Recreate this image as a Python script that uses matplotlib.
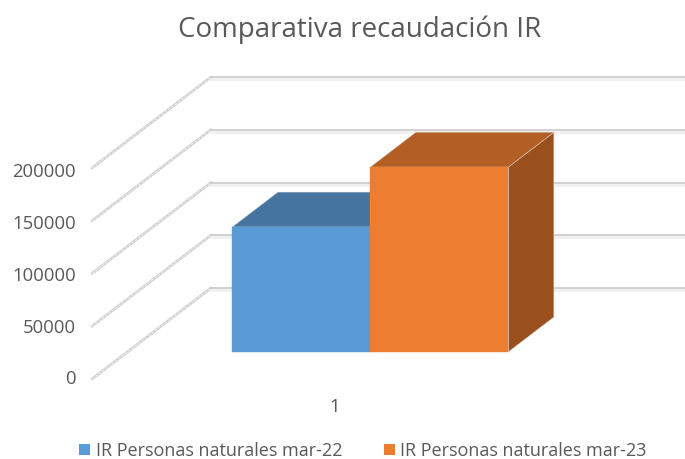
import matplotlib
matplotlib.use('Agg')
import matplotlib.pyplot as plt
from matplotlib.patches import Polygon, Patch

plt.rcParams['font.family'] = ['Open Sans', 'DejaVu Sans']

# datos
categorias = ['1']
series = ['IR Personas naturales mar-22', 'IR Personas naturales mar-23']
valores = [118500, 175300]
ticks_y = [0, 50000, 100000, 150000, 200000]

colores = ['#5B9BD5', '#ED7D31']
colores_arriba = ['#44749F', '#B25E24']
colores_lado = ['#3F6C95', '#9A501C']

# caja 3D: x en ancho de barra, y en valor, d = profundidad de 0 a 1
PX_X = 138.0
PX_Y = 211.0 / 200000
FONDO_X = 119 / PX_X
FONDO_Y = 91 / PX_Y
PARED_X = -0.761
FIN_X = 488 / PX_X
D_FRENTE = 0.297
D_ATRAS = 0.68


def proyectar(x, v, d):
    return x + d * FONDO_X, v + d * FONDO_Y


def cara(puntos, color, z, **kw):
    pts = [proyectar(*p) for p in puntos]
    return Polygon(pts, closed=True, facecolor=color, edgecolor=kw.pop('borde', color),
                   linewidth=kw.pop('grosor', 0.6), zorder=z, **kw)


fig = plt.figure(figsize=(6.85, 4.59), dpi=100)
ax = fig.add_axes([0, 0, 1, 1])
ax.set_xlim(-197 / PX_X, FIN_X)
ax.set_ylim(-80 / PX_Y, 379 / PX_Y)
ax.axis('off')

# rejilla: pared lateral y pared del fondo
for t in ticks_y:
    x0, y0 = proyectar(PARED_X, t, 0)
    x1, y1 = proyectar(PARED_X, t, 1)
    ax.plot([x0, x1], [y0, y1], color='#d2d2d2', lw=2.0, zorder=1, solid_capstyle='round')
    ax.plot([x0, x1], [y0, y1], color='#f4f4f4', lw=0.6, zorder=1.1, dashes=(3, 2))
    ax.plot([x1, FIN_X], [y1 - 2 / PX_Y, y1 - 2 / PX_Y], color='#f0f0f0', lw=2.0, zorder=1)
    ax.plot([x1, FIN_X], [y1, y1], color='#cacaca', lw=1.2, zorder=1.1)
    ax.text(x0 - 16 / PX_X, t * 0.985 - 0.5 / PX_Y, str(t), ha='right', va='center',
            fontsize=13.3, color='#595959')

# barras
for i, v in enumerate(valores):
    izq, der = i, i + 1
    ax.add_patch(cara([(der, 0, D_FRENTE), (der, 0, D_ATRAS), (der, v, D_ATRAS), (der, v, D_FRENTE)],
                      colores_lado[i], 3 + i, borde='#d4d4d4', grosor=0.5))
    ax.add_patch(cara([(izq, v, D_FRENTE), (izq, v, D_ATRAS), (der, v, D_ATRAS), (der, v, D_FRENTE)],
                      colores_arriba[i], 3 + i, borde='#d4d4d4', grosor=0.3))
    ax.add_patch(cara([(izq, 0, D_FRENTE), (der, 0, D_FRENTE), (der, v, D_FRENTE), (izq, v, D_FRENTE)],
                      colores[i], 3.1 + i, grosor=0.3))

# etiqueta de categoria
x_cat, y_cat = proyectar(1, 0, 0)
ax.text(x_cat, y_cat - 28 / PX_Y, categorias[0], ha='center', va='center', fontsize=13.3, color='#595959')

ax.text(0.525, 0.936, 'Comparativa recaudación IR', transform=ax.transAxes, ha='center', va='center',
        fontsize=20, color='#595959')

manijas = [Patch(facecolor=colores[i], label=series[i]) for i in range(len(series))]
ax.legend(handles=manijas, loc='center', bbox_to_anchor=(0.53, 0.0175), ncol=2, frameon=False,
          fontsize=13.0, labelcolor='#595959', handlelength=0.62, handleheight=0.62,
          handletextpad=0.3, columnspacing=2.3, borderpad=0)

fig.savefig('out.png', dpi=100)
